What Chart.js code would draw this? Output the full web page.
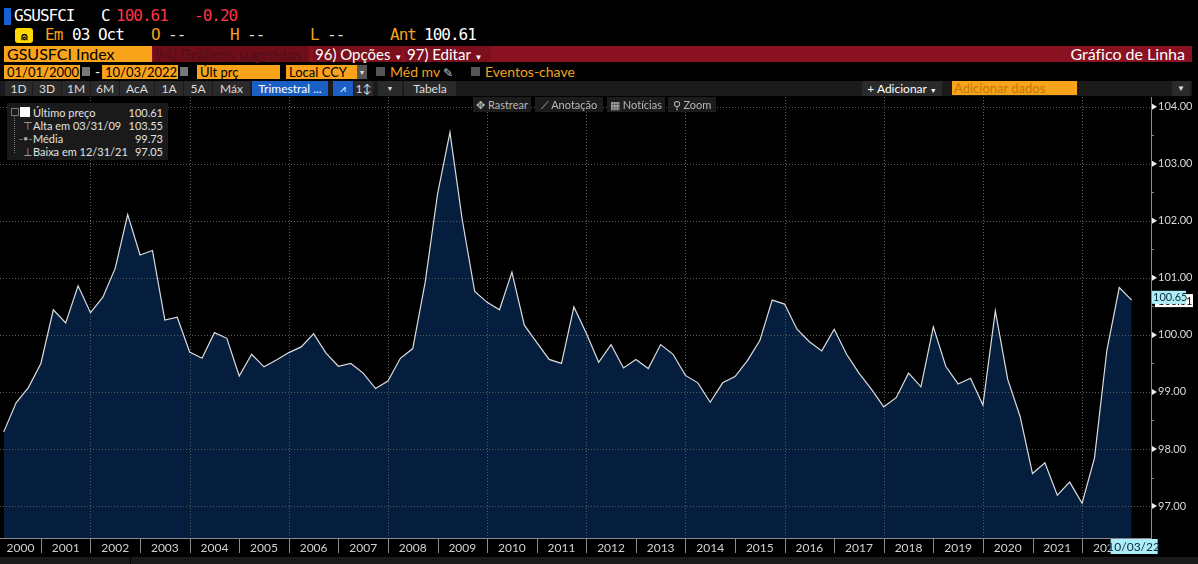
<!DOCTYPE html>
<html>
<head>
<meta charset="utf-8">
<script src="https://cdn.jsdelivr.net/npm/chart.js@4.4.0/dist/chart.umd.min.js"></script>
<style>
  body { margin:0; background:#000; width:1198px; height:564px; overflow:hidden; position:relative;
         font-family:Lato,Roboto,sans-serif; color:#ddd; font-variant-ligatures:none; }
  .a { position:absolute; white-space:nowrap; }
  .mono { font-family:"DejaVu Sans Mono",monospace; font-size:16px; letter-spacing:-1px; line-height:16px; }
  .or { color:#f5a01e; }
  .box { position:absolute; white-space:nowrap; overflow:hidden; background:#f9a31a; color:#000; font-size:13px; line-height:14px; padding-left:3px; box-sizing:border-box; }
  .btn { position:absolute; white-space:nowrap; top:81px; height:15px; background:#2a2a2a; color:#ddd; font-size:12px; line-height:15px; text-align:center; }
  .tool { position:absolute; white-space:nowrap; top:97px; height:15px; background:#1c1c1c; color:#b8b8b8; font-size:11px; line-height:15px; text-align:center; box-sizing:border-box; }
  .lg { position:absolute; white-space:nowrap; font-size:11px; line-height:13px; color:#e2e2e2; }
  #wrap { position:absolute; left:0; top:97px; width:1198px; height:460px; }
</style>
</head>
<body>
<!-- header row 1 -->
<div class="a" style="left:4px;top:8px;width:7px;height:17px;background:#1560d4"></div>
<div class="a mono" style="left:14px;top:8px;color:#fff">GSUSFCI</div>
<div class="a mono" style="left:101px;top:8px;color:#fff">C</div>
<div class="a mono" style="left:116px;top:8px;color:#ff3347">100.61</div>
<div class="a mono" style="left:194px;top:8px;color:#ff3347">-0.20</div>
<!-- header row 2 -->
<div class="a" style="left:15px;top:28px;width:18px;height:15px;background:#ffd900;border-radius:3px;color:#000;font-size:11px;line-height:15px;text-align:center;font-weight:bold">⍝</div>
<div class="a mono or" style="left:45px;top:27px">Em</div>
<div class="a mono" style="left:72px;top:27px;color:#fff">03 Oct</div>
<div class="a mono or" style="left:151px;top:27px">O</div>
<div class="a mono" style="left:168px;top:27px;color:#ddd">--</div>
<div class="a mono or" style="left:230px;top:27px">H</div>
<div class="a mono" style="left:247px;top:27px;color:#ddd">--</div>
<div class="a mono or" style="left:310px;top:27px">L</div>
<div class="a mono" style="left:327px;top:27px;color:#ddd">--</div>
<div class="a mono or" style="left:390px;top:27px">Ant</div>
<div class="a mono" style="left:424px;top:27px;color:#fff">100.61</div>
<!-- header row 3 -->
<div class="box" style="left:4px;top:46px;width:148px;height:16px;font-size:16px;line-height:16px">GSUSFCI Index</div>
<div class="a" style="left:152px;top:46px;width:1040px;height:16px;background:#8a1121"></div>
<div class="a" style="left:153px;top:46px;width:156px;height:16px;background:#6f0d19;color:#52101a;font-size:15px;line-height:16px;padding-left:2px;box-sizing:border-box">94) Gráficos sugeridos</div>
<div class="a" style="left:313px;top:46px;width:89px;height:16px;background:#7c0f1d;color:#fff;font-size:15px;line-height:16px;padding-left:2px;box-sizing:border-box">96) Opções <span style="font-size:8px">▼</span></div>
<div class="a" style="left:405px;top:46px;width:86px;height:16px;background:#7c0f1d;color:#fff;font-size:15px;line-height:16px;padding-left:2px;box-sizing:border-box">97) Editar <span style="font-size:8px">▼</span></div>
<div class="a" style="right:13px;top:46px;color:#fff;font-size:16px;line-height:16px">Gráfico de Linha</div>
<!-- header row 4 -->
<div class="box" style="left:4px;top:65px;width:76px;height:14px">01/01/2000</div>
<div class="a" style="left:82px;top:67px;width:8px;height:9px;background:#777"></div>
<div class="a" style="left:95px;top:63px;color:#fff;font-size:14px">-</div>
<div class="box" style="left:102px;top:65px;width:76px;height:14px">10/03/2022</div>
<div class="a" style="left:180px;top:67px;width:8px;height:9px;background:#777"></div>
<div class="box" style="left:197px;top:65px;width:83px;height:14px">Últ prç</div>
<div class="box" style="left:286px;top:65px;width:71px;height:14px">Local CCY</div>
<div class="a" style="left:357px;top:65px;width:10px;height:14px;background:#555;color:#ddd;font-size:7px;line-height:14px;text-align:center">▼</div>
<div class="a" style="left:376px;top:67px;width:9px;height:9px;background:#555"></div>
<div class="a or" style="left:390px;top:64px;font-size:14px;line-height:16px">Méd mv <span style="color:#ccc;font-size:12px">✎</span></div>
<div class="a" style="left:471px;top:67px;width:9px;height:9px;background:#555"></div>
<div class="a or" style="left:485px;top:64px;font-size:14px;line-height:16px">Eventos-chave</div>
<!-- header row 5 -->
<div class="a" style="left:0;top:81px;width:1192px;height:15px;background:#1b1b1b"></div>
<div class="btn" style="left:5px;width:27px">1D</div>
<div class="btn" style="left:33px;width:28px">3D</div>
<div class="btn" style="left:62px;width:28px">1M</div>
<div class="btn" style="left:91px;width:28px">6M</div>
<div class="btn" style="left:120px;width:34px">AcA</div>
<div class="btn" style="left:155px;width:28px">1A</div>
<div class="btn" style="left:184px;width:28px">5A</div>
<div class="btn" style="left:213px;width:37px">Máx</div>
<div class="btn" style="left:252px;width:76px;background:#1c5fc4;color:#fff">Trimestral ...</div>
<div class="btn" style="left:333px;width:20px;background:#1c5fc4;color:#fff;font-size:10px">⩘</div>
<div class="btn" style="left:354px;width:19px">1↕</div>
<div class="btn" style="left:378px;width:24px;font-size:7px">▼</div>
<div class="btn" style="left:404px;width:52px">Tabela</div>
<div class="btn" style="left:862px;width:80px;color:#fff">+ Adicionar <span style="font-size:7px">▼</span></div>
<div class="a" style="left:952px;top:81px;width:125px;height:14px;background:#f9a31a;color:#c47a0c;font-size:13px;line-height:14px;padding-left:2px;box-sizing:border-box">Adicionar dados</div>
<div class="btn" style="left:1172px;width:18px;font-size:8px">▼</div>

<div id="wrap"><canvas id="chart"></canvas></div>

<!-- chart toolbar -->
<div class="tool" style="left:473px;width:58px">✥ Rastrear</div>
<div class="tool" style="left:535px;width:68px">⟋ Anotação</div>
<div class="tool" style="left:607px;width:58px">▦ Notícias</div>
<div class="tool" style="left:668px;width:48px">⚲ Zoom</div>

<!-- legend -->
<div class="a" style="left:7px;top:103px;width:161px;height:57px;background:#1a1a1a"></div>
<div class="a" style="left:11px;top:108px;width:6px;height:6px;border:1px solid #777"></div>
<div class="a" style="left:14px;top:116px;width:0;height:37px;border-left:1px dotted #777"></div>
<div class="a" style="left:20px;top:107px;width:10px;height:10px;background:#fff"></div>
<div class="lg" style="left:33px;top:106px">Último preço</div>
<div class="lg" style="right:1035px;top:106px">100.61</div>
<div class="lg" style="left:23px;top:119px;color:#aaa">⊤</div>
<div class="lg" style="left:33px;top:119px">Alta em 03/31/09</div>
<div class="lg" style="right:1035px;top:119px">103.55</div>
<div class="lg" style="left:19px;top:132px;color:#aaa;font-size:10px">-•-</div>
<div class="lg" style="left:33px;top:132px">Média</div>
<div class="lg" style="right:1035px;top:132px">99.73</div>
<div class="lg" style="left:23px;top:145px;color:#aaa">⊥</div>
<div class="lg" style="left:33px;top:145px">Baixa em 12/31/21</div>
<div class="lg" style="right:1035px;top:145px">97.05</div>

<div class="a" style="left:0;top:557px;width:1198px;height:7px;background:#1a1a1a"></div>
<div class="a" style="left:130px;top:557px;width:1px;height:7px;background:#000"></div>

<script>
// GSUSFCI Index, quarterly, last price
const years = [2000, 2001, 2002, 2003, 2004, 2005, 2006, 2007, 2008, 2009, 2010, 2011,
               2012, 2013, 2014, 2015, 2016, 2017, 2018, 2019, 2020, 2021, 2022];
const quarterEnds = [0.25, 0.5, 0.75, 1.0];

const values = [
  98.30, 98.81, 99.08, 99.50,      // 2000
  100.44, 100.21, 100.86, 100.39,  // 2001
  100.66, 101.17, 102.11, 101.40,  // 2002
  101.48, 100.26, 100.31, 99.70,   // 2003
  99.59, 100.04, 99.94, 99.28,     // 2004
  99.66, 99.44, 99.56, 99.69,      // 2005
  99.79, 100.02, 99.68, 99.45,     // 2006
  99.50, 99.33, 99.06, 99.19,      // 2007
  99.59, 99.76, 100.92, 102.47,    // 2008
  103.55, 102.01, 100.76, 100.57,  // 2009
  100.44, 101.10, 100.17, 99.87,   // 2010
  99.57, 99.50, 100.49, 100.03,    // 2011
  99.52, 99.83, 99.42, 99.57,      // 2012
  99.41, 99.83, 99.66, 99.29,      // 2013
  99.16, 98.82, 99.16, 99.27,      // 2014
  99.55, 99.90, 100.61, 100.54,    // 2015
  100.10, 99.88, 99.72, 100.10,    // 2016
  99.66, 99.33, 99.05, 98.74,      // 2017
  98.90, 99.33, 99.09, 100.14,     // 2018
  99.45, 99.14, 99.24, 98.77,      // 2019
  100.42, 99.22, 98.57, 97.57,     // 2020
  97.76, 97.19, 97.42, 97.05,      // 2021
  97.84, 99.73, 100.83, 100.61     // 2022
];

const yTicks = [97, 98, 99, 100, 101, 102, 103, 104];
const yearLabels = years.map(String);
const lastPrice = 100.61;
const markerPrice = 100.65;
const lastDateLabel = '10/03/22';

const points = [];
years.forEach((yr, yi) => quarterEnds.forEach((q, qi) => {
  points.push({ x: yr + q, y: values[yi * 4 + qi] });
}));

const xMin = 2000.175, xMax = 2023.39;
const yMin = 96.44, yMax = 104.17;
const FONT = 'Lato, Roboto, sans-serif';

// label of first year sits in the middle of its visible part
const labelPos = years.map((yr, i) => i === 0 ? (xMin + yr + 1) / 2 : yr + 0.5);

const noPad = s => { s.paddingTop = 0; s.paddingBottom = 0; s.paddingLeft = 0; s.paddingRight = 0; };

const decor = {
  id: 'decor',
  beforeDatasetsDraw(chart) {
    const { ctx, chartArea: a, scales: { x, y } } = chart;
    ctx.save();
    ctx.strokeStyle = '#5c5c5c';
    ctx.lineWidth = 1;
    ctx.setLineDash([1, 2]);
    ctx.beginPath();
    yTicks.forEach(v => {
      const py = Math.round(y.getPixelForValue(v)) + 0.5;
      ctx.moveTo(a.left, py); ctx.lineTo(a.right, py);
    });
    years.filter(yr => yr % 2 === 0 && yr > 2000).forEach(yr => {
      const px = Math.round(x.getPixelForValue(yr)) + 0.5;
      ctx.moveTo(px, a.top); ctx.lineTo(px, a.bottom);
    });
    ctx.stroke();
    ctx.restore();
  },
  afterDraw(chart) {
    const { ctx, chartArea: a, scales: { x, y } } = chart;
    ctx.save();
    // year separators in the axis band
    ctx.strokeStyle = '#8a8a8a';
    ctx.lineWidth = 1;
    ctx.beginPath();
    years.slice(1).concat([2023]).forEach(yr => {
      const px = Math.round(x.getPixelForValue(yr)) + 0.5;
      ctx.moveTo(px, a.bottom); ctx.lineTo(px, a.bottom + 15);
    });
    // minor ticks on the price axis
    yTicks.slice(0, -1).forEach(v => {
      const py = Math.round(y.getPixelForValue(v + 0.5)) + 0.5;
      ctx.moveTo(a.right, py); ctx.lineTo(a.right + 3, py);
    });
    ctx.stroke();
    // tick markers
    ctx.fillStyle = '#f0f0f0';
    yTicks.forEach(v => {
      const py = y.getPixelForValue(v);
      ctx.beginPath();
      ctx.moveTo(a.right + 1, py - 3); ctx.lineTo(a.right + 6, py); ctx.lineTo(a.right + 1, py + 3);
      ctx.fill();
    });
    // last price tags
    ctx.font = '11px ' + FONT;
    ctx.textBaseline = 'middle';
    const py = y.getPixelForValue(lastPrice);
    ctx.fillStyle = '#ffffff';
    ctx.fillRect(a.right + 4, py - 6, 38, 13);
    ctx.fillStyle = '#000';
    ctx.fillText(lastPrice.toFixed(2), a.right + 7, py + 1);
    const pm = y.getPixelForValue(markerPrice);
    ctx.fillStyle = '#aeeef6';
    ctx.fillRect(a.right + 1, pm - 7, 34, 13);
    ctx.fillStyle = '#0a2a40';
    ctx.fillText(markerPrice.toFixed(2), a.right + 2, pm);
    // last date tag
    const last = points[points.length - 1];
    const px = x.getPixelForValue(last.x);
    ctx.fillStyle = '#aeeef6';
    ctx.fillRect(px - 21, a.bottom + 1, 47, 15);
    ctx.fillStyle = '#0a2a40';
    ctx.textAlign = 'center';
    ctx.font = '12px ' + FONT;
    ctx.fillText(lastDateLabel, px + 2, a.bottom + 9);
    ctx.restore();
  }
};

new Chart(document.getElementById('chart'), {
  type: 'line',
  data: {
    datasets: [{
      data: points,
      borderColor: '#dcdcdc',
      borderWidth: 1.2,
      backgroundColor: '#051e3d',
      fill: 'start',
      pointRadius: 0,
      tension: 0
    }]
  },
  options: {
    responsive: true,
    maintainAspectRatio: false,
    animation: false,
    layout: { padding: 0 },
    plugins: {
      legend: { display: false },
      tooltip: { enabled: false },
      filler: { drawTime: 'beforeDatasetsDraw' }
    },
    scales: {
      x: {
        type: 'linear',
        min: xMin,
        max: xMax,
        afterBuildTicks: s => { s.ticks = labelPos.map(v => ({ value: v })); },
        afterFit: s => { s.height = 19; noPad(s); },
        grid: { display: false, drawTicks: false },
        border: { display: true, color: '#8a8a8a' },
        ticks: {
          autoSkip: false,
          maxRotation: 0,
          padding: 3,
          color: '#d0d0d0',
          font: { family: FONT, size: 12 },
          callback: (v, i) => yearLabels[i]
        }
      },
      y: {
        position: 'right',
        min: yMin,
        max: yMax,
        afterBuildTicks: s => { s.ticks = yTicks.map(v => ({ value: v })); },
        afterFit: s => { s.width = 47; noPad(s); },
        grid: { display: false, drawTicks: false },
        border: { display: true, color: '#8a8a8a' },
        ticks: {
          padding: 7,
          color: '#d8d8d8',
          font: { family: FONT, size: 11 },
          callback: v => v.toFixed(2)
        }
      }
    }
  },
  plugins: [decor]
});
</script>
</body>
</html>
